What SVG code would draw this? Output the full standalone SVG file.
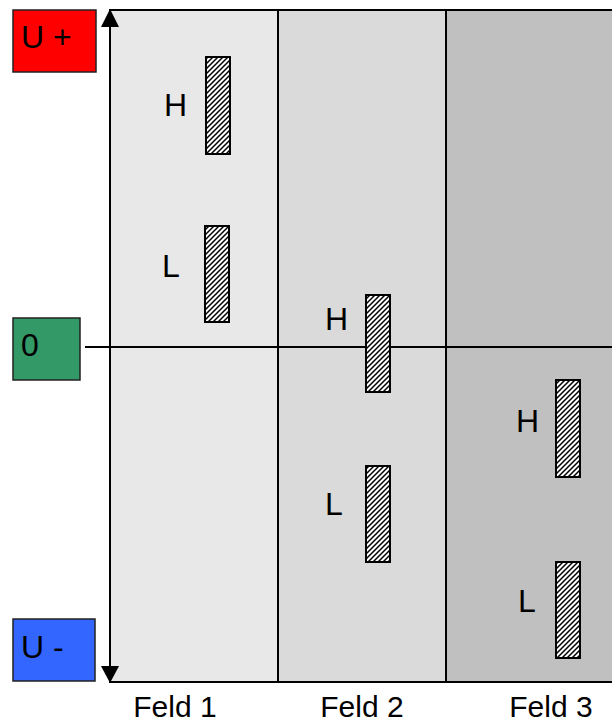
<svg xmlns="http://www.w3.org/2000/svg" width="612" height="724" viewBox="0 0 612 724">
<defs>
<pattern id="hatch" patternUnits="userSpaceOnUse" width="5" height="5">
<rect width="5" height="5" fill="#ffffff"/>
<path d="M-1,1 L1,-1 M0,5 L5,0 M4,6 L6,4" stroke="#000" stroke-width="1.5"/>
</pattern>
</defs>
<style>
text{font-family:"Liberation Sans",Arial,sans-serif;font-size:32px;fill:#000}
.feld{font-size:30px}
.bar{fill:url(#hatch);stroke:#000;stroke-width:2}
.lvl{stroke:#222;stroke-width:1.5}
.field{stroke:#000;stroke-width:2}
</style>
<g id="fields">
<rect id="feld1" class="field" x="110" y="10" width="168" height="672" fill="#e8e8e8"/>
<rect id="feld2" class="field" x="278" y="10" width="168" height="672" fill="#dadada"/>
<rect id="feld3" class="field" x="446" y="10" width="170" height="672" fill="#c0c0c0"/>
</g>
<g id="connectors">
<line x1="85" y1="347" x2="612" y2="347" stroke="#000" stroke-width="2"/>
<line x1="110" y1="26" x2="110" y2="667" stroke="#000" stroke-width="2"/>
<path d="M110,9 L101,27 L119,27 Z" fill="#000"/>
<path d="M110,683 L101,666 L119,666 Z" fill="#000"/>
</g>
<g id="uplus"><rect class="lvl" x="13" y="10" width="83" height="62" fill="#ff0000"/><text x="21" y="48">U +</text></g>
<g id="zero"><rect class="lvl" x="13" y="318" width="67" height="62" fill="#339966"/><text x="21" y="356">0</text></g>
<g id="uminus"><rect class="lvl" x="13" y="619" width="82" height="62" fill="#3366ff"/><text x="21" y="658">U -</text></g>
<g id="f1h"><rect class="bar" x="206" y="57" width="24" height="97"/><text x="164" y="116">H</text></g>
<g id="f1l"><rect class="bar" x="205" y="226" width="24" height="96"/><text x="162" y="277">L</text></g>
<g id="f2h"><rect class="bar" x="366" y="295" width="24" height="97"/><text x="325" y="330">H</text></g>
<g id="f2l"><rect class="bar" x="366" y="466" width="24" height="96"/><text x="325" y="515">L</text></g>
<g id="f3h"><rect class="bar" x="556" y="380" width="24" height="97"/><text x="516" y="432">H</text></g>
<g id="f3l"><rect class="bar" x="556" y="562" width="24" height="96"/><text x="518" y="612">L</text></g>
<g id="labels">
<text class="feld" x="175" y="717" text-anchor="middle">Feld 1</text>
<text class="feld" x="362" y="717" text-anchor="middle">Feld 2</text>
<text class="feld" x="551" y="717" text-anchor="middle">Feld 3</text>
</g>
</svg>
